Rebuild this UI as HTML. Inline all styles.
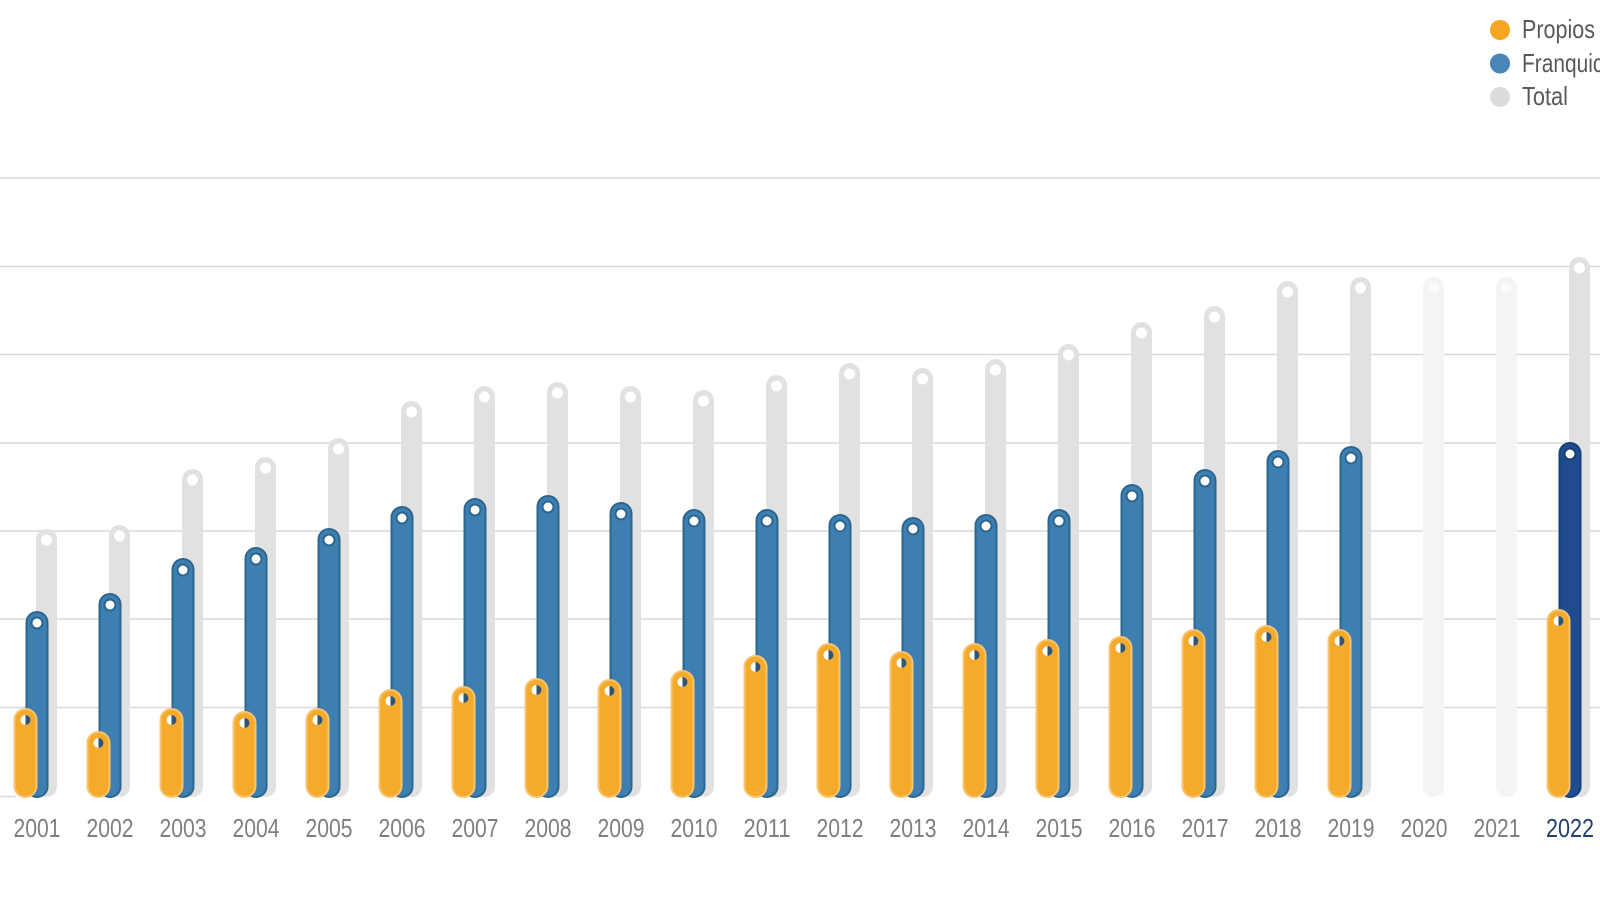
<!DOCTYPE html>
<html>
<head>
<meta charset="utf-8">
<style>
  html,body{margin:0;padding:0;background:#fff;}
  svg{display:block;}
  .gl{stroke:#D9D9D9;stroke-width:1.5;}
  .g{fill:#E1E1E1;}
  .f{fill:#F4F4F4;}
  .b{fill:#3D7FB1;stroke:#2C6690;stroke-width:2;}
  .n{fill:#1F4C8F;stroke:#173E78;stroke-width:2;}
  .o{fill:#F5AA2C;stroke:#F8C46E;stroke-width:2;}
  .w{fill:#fff;}
  .wf{fill:#FBFBFB;}
  .bm{fill:#fff;stroke:#2C6690;stroke-width:2;r:5.5px;}
  .nm{fill:#fff;stroke:#173E78;stroke-width:2;r:5.5px;}
  .dh{fill:#32546E;}
  .yl{font-family:"Liberation Sans Narrow","Liberation Sans",sans-serif;font-size:26px;fill:#7F7F7F;}
  .yl2{font-family:"Liberation Sans Narrow","Liberation Sans",sans-serif;font-size:26px;fill:#223F70;}
  .lg{font-family:"Liberation Sans Narrow","Liberation Sans",sans-serif;font-size:26px;fill:#595959;}
</style>
</head>
<body>
<svg width="1600" height="900" viewBox="0 0 1600 900" xmlns="http://www.w3.org/2000/svg">
  <!-- gridlines -->
  <line class="gl" x1="0" y1="178" x2="1600" y2="178"/>
  <line class="gl" x1="0" y1="266.5" x2="1600" y2="266.5"/>
  <line class="gl" x1="0" y1="354.5" x2="1600" y2="354.5"/>
  <line class="gl" x1="0" y1="443" x2="1600" y2="443"/>
  <line class="gl" x1="0" y1="531" x2="1600" y2="531"/>
  <line class="gl" x1="0" y1="619" x2="1600" y2="619"/>
  <line class="gl" x1="0" y1="707.5" x2="1600" y2="707.5"/>
  <line class="gl" x1="0" y1="796.5" x2="16" y2="796.5"/>

  <!-- 2001 -->
  <g transform="translate(37,0)">
    <rect class="g" x="-1" y="529" width="21" height="268" rx="10.5"/>
    <circle class="w" cx="9.5" cy="540" r="5.5"/>
    <rect class="b" x="-10.5" y="612" width="21" height="185" rx="10.5"/>
    <circle class="bm" cx="0" cy="623" r="5.5"/>
    <rect class="o" x="-22.5" y="709" width="22" height="88" rx="11"/>
    <circle class="w" cx="-11.5" cy="720" r="5"/>
    <path class="dh" d="M-11.5,715 A5,5 0 0 1 -11.5,725 Z"/>
  </g>
  <!-- 2002 -->
  <g transform="translate(110,0)">
    <rect class="g" x="-1" y="525" width="21" height="272" rx="10.5"/>
    <circle class="w" cx="9.5" cy="536" r="5.5"/>
    <rect class="b" x="-10.5" y="594" width="21" height="203" rx="10.5"/>
    <circle class="bm" cx="0" cy="605" r="5.5"/>
    <rect class="o" x="-22.5" y="732" width="22" height="65" rx="11"/>
    <circle class="w" cx="-11.5" cy="743" r="5"/>
    <path class="dh" d="M-11.5,738 A5,5 0 0 1 -11.5,748 Z"/>
  </g>
  <!-- 2003 -->
  <g transform="translate(183,0)">
    <rect class="g" x="-1" y="469" width="21" height="328" rx="10.5"/>
    <circle class="w" cx="9.5" cy="480" r="5.5"/>
    <rect class="b" x="-10.5" y="559" width="21" height="238" rx="10.5"/>
    <circle class="bm" cx="0" cy="570" r="5.5"/>
    <rect class="o" x="-22.5" y="709" width="22" height="88" rx="11"/>
    <circle class="w" cx="-11.5" cy="720" r="5"/>
    <path class="dh" d="M-11.5,715 A5,5 0 0 1 -11.5,725 Z"/>
  </g>
  <!-- 2004 -->
  <g transform="translate(256,0)">
    <rect class="g" x="-1" y="457" width="21" height="340" rx="10.5"/>
    <circle class="w" cx="9.5" cy="468" r="5.5"/>
    <rect class="b" x="-10.5" y="548" width="21" height="249" rx="10.5"/>
    <circle class="bm" cx="0" cy="559" r="5.5"/>
    <rect class="o" x="-22.5" y="712" width="22" height="85" rx="11"/>
    <circle class="w" cx="-11.5" cy="723" r="5"/>
    <path class="dh" d="M-11.5,718 A5,5 0 0 1 -11.5,728 Z"/>
  </g>
  <!-- 2005 -->
  <g transform="translate(329,0)">
    <rect class="g" x="-1" y="438" width="21" height="359" rx="10.5"/>
    <circle class="w" cx="9.5" cy="449" r="5.5"/>
    <rect class="b" x="-10.5" y="529" width="21" height="268" rx="10.5"/>
    <circle class="bm" cx="0" cy="540" r="5.5"/>
    <rect class="o" x="-22.5" y="709" width="22" height="88" rx="11"/>
    <circle class="w" cx="-11.5" cy="720" r="5"/>
    <path class="dh" d="M-11.5,715 A5,5 0 0 1 -11.5,725 Z"/>
  </g>
  <!-- 2006 -->
  <g transform="translate(402,0)">
    <rect class="g" x="-1" y="401" width="21" height="396" rx="10.5"/>
    <circle class="w" cx="9.5" cy="412" r="5.5"/>
    <rect class="b" x="-10.5" y="507" width="21" height="290" rx="10.5"/>
    <circle class="bm" cx="0" cy="518" r="5.5"/>
    <rect class="o" x="-22.5" y="690" width="22" height="107" rx="11"/>
    <circle class="w" cx="-11.5" cy="701" r="5"/>
    <path class="dh" d="M-11.5,696 A5,5 0 0 1 -11.5,706 Z"/>
  </g>
  <!-- 2007 -->
  <g transform="translate(475,0)">
    <rect class="g" x="-1" y="386" width="21" height="411" rx="10.5"/>
    <circle class="w" cx="9.5" cy="397" r="5.5"/>
    <rect class="b" x="-10.5" y="499" width="21" height="298" rx="10.5"/>
    <circle class="bm" cx="0" cy="510" r="5.5"/>
    <rect class="o" x="-22.5" y="687" width="22" height="110" rx="11"/>
    <circle class="w" cx="-11.5" cy="698" r="5"/>
    <path class="dh" d="M-11.5,693 A5,5 0 0 1 -11.5,703 Z"/>
  </g>
  <!-- 2008 -->
  <g transform="translate(548,0)">
    <rect class="g" x="-1" y="382" width="21" height="415" rx="10.5"/>
    <circle class="w" cx="9.5" cy="393" r="5.5"/>
    <rect class="b" x="-10.5" y="496" width="21" height="301" rx="10.5"/>
    <circle class="bm" cx="0" cy="507" r="5.5"/>
    <rect class="o" x="-22.5" y="679" width="22" height="118" rx="11"/>
    <circle class="w" cx="-11.5" cy="690" r="5"/>
    <path class="dh" d="M-11.5,685 A5,5 0 0 1 -11.5,695 Z"/>
  </g>
  <!-- 2009 -->
  <g transform="translate(621,0)">
    <rect class="g" x="-1" y="386" width="21" height="411" rx="10.5"/>
    <circle class="w" cx="9.5" cy="397" r="5.5"/>
    <rect class="b" x="-10.5" y="503" width="21" height="294" rx="10.5"/>
    <circle class="bm" cx="0" cy="514" r="5.5"/>
    <rect class="o" x="-22.5" y="680" width="22" height="117" rx="11"/>
    <circle class="w" cx="-11.5" cy="691" r="5"/>
    <path class="dh" d="M-11.5,686 A5,5 0 0 1 -11.5,696 Z"/>
  </g>
  <!-- 2010 -->
  <g transform="translate(694,0)">
    <rect class="g" x="-1" y="390" width="21" height="407" rx="10.5"/>
    <circle class="w" cx="9.5" cy="401" r="5.5"/>
    <rect class="b" x="-10.5" y="510" width="21" height="287" rx="10.5"/>
    <circle class="bm" cx="0" cy="521" r="5.5"/>
    <rect class="o" x="-22.5" y="671" width="22" height="126" rx="11"/>
    <circle class="w" cx="-11.5" cy="682" r="5"/>
    <path class="dh" d="M-11.5,677 A5,5 0 0 1 -11.5,687 Z"/>
  </g>
  <!-- 2011 -->
  <g transform="translate(767,0)">
    <rect class="g" x="-1" y="375" width="21" height="422" rx="10.5"/>
    <circle class="w" cx="9.5" cy="386" r="5.5"/>
    <rect class="b" x="-10.5" y="510" width="21" height="287" rx="10.5"/>
    <circle class="bm" cx="0" cy="521" r="5.5"/>
    <rect class="o" x="-22.5" y="656" width="22" height="141" rx="11"/>
    <circle class="w" cx="-11.5" cy="667" r="5"/>
    <path class="dh" d="M-11.5,662 A5,5 0 0 1 -11.5,672 Z"/>
  </g>
  <!-- 2012 -->
  <g transform="translate(840,0)">
    <rect class="g" x="-1" y="363" width="21" height="434" rx="10.5"/>
    <circle class="w" cx="9.5" cy="374" r="5.5"/>
    <rect class="b" x="-10.5" y="515" width="21" height="282" rx="10.5"/>
    <circle class="bm" cx="0" cy="526" r="5.5"/>
    <rect class="o" x="-22.5" y="644" width="22" height="153" rx="11"/>
    <circle class="w" cx="-11.5" cy="655" r="5"/>
    <path class="dh" d="M-11.5,650 A5,5 0 0 1 -11.5,660 Z"/>
  </g>
  <!-- 2013 -->
  <g transform="translate(913,0)">
    <rect class="g" x="-1" y="368" width="21" height="429" rx="10.5"/>
    <circle class="w" cx="9.5" cy="379" r="5.5"/>
    <rect class="b" x="-10.5" y="518" width="21" height="279" rx="10.5"/>
    <circle class="bm" cx="0" cy="529" r="5.5"/>
    <rect class="o" x="-22.5" y="652" width="22" height="145" rx="11"/>
    <circle class="w" cx="-11.5" cy="663" r="5"/>
    <path class="dh" d="M-11.5,658 A5,5 0 0 1 -11.5,668 Z"/>
  </g>
  <!-- 2014 -->
  <g transform="translate(986,0)">
    <rect class="g" x="-1" y="359" width="21" height="438" rx="10.5"/>
    <circle class="w" cx="9.5" cy="370" r="5.5"/>
    <rect class="b" x="-10.5" y="515" width="21" height="282" rx="10.5"/>
    <circle class="bm" cx="0" cy="526" r="5.5"/>
    <rect class="o" x="-22.5" y="644" width="22" height="153" rx="11"/>
    <circle class="w" cx="-11.5" cy="655" r="5"/>
    <path class="dh" d="M-11.5,650 A5,5 0 0 1 -11.5,660 Z"/>
  </g>
  <!-- 2015 -->
  <g transform="translate(1059,0)">
    <rect class="g" x="-1" y="344" width="21" height="453" rx="10.5"/>
    <circle class="w" cx="9.5" cy="355" r="5.5"/>
    <rect class="b" x="-10.5" y="510" width="21" height="287" rx="10.5"/>
    <circle class="bm" cx="0" cy="521" r="5.5"/>
    <rect class="o" x="-22.5" y="640" width="22" height="157" rx="11"/>
    <circle class="w" cx="-11.5" cy="651" r="5"/>
    <path class="dh" d="M-11.5,646 A5,5 0 0 1 -11.5,656 Z"/>
  </g>
  <!-- 2016 -->
  <g transform="translate(1132,0)">
    <rect class="g" x="-1" y="322" width="21" height="475" rx="10.5"/>
    <circle class="w" cx="9.5" cy="333" r="5.5"/>
    <rect class="b" x="-10.5" y="485" width="21" height="312" rx="10.5"/>
    <circle class="bm" cx="0" cy="496" r="5.5"/>
    <rect class="o" x="-22.5" y="637" width="22" height="160" rx="11"/>
    <circle class="w" cx="-11.5" cy="648" r="5"/>
    <path class="dh" d="M-11.5,643 A5,5 0 0 1 -11.5,653 Z"/>
  </g>
  <!-- 2017 -->
  <g transform="translate(1205,0)">
    <rect class="g" x="-1" y="306" width="21" height="491" rx="10.5"/>
    <circle class="w" cx="9.5" cy="317" r="5.5"/>
    <rect class="b" x="-10.5" y="470" width="21" height="327" rx="10.5"/>
    <circle class="bm" cx="0" cy="481" r="5.5"/>
    <rect class="o" x="-22.5" y="630" width="22" height="167" rx="11"/>
    <circle class="w" cx="-11.5" cy="641" r="5"/>
    <path class="dh" d="M-11.5,636 A5,5 0 0 1 -11.5,646 Z"/>
  </g>
  <!-- 2018 -->
  <g transform="translate(1278,0)">
    <rect class="g" x="-1" y="281" width="21" height="516" rx="10.5"/>
    <circle class="w" cx="9.5" cy="292" r="5.5"/>
    <rect class="b" x="-10.5" y="451" width="21" height="346" rx="10.5"/>
    <circle class="bm" cx="0" cy="462" r="5.5"/>
    <rect class="o" x="-22.5" y="626" width="22" height="171" rx="11"/>
    <circle class="w" cx="-11.5" cy="637" r="5"/>
    <path class="dh" d="M-11.5,632 A5,5 0 0 1 -11.5,642 Z"/>
  </g>
  <!-- 2019 -->
  <g transform="translate(1351,0)">
    <rect class="g" x="-1" y="277" width="21" height="520" rx="10.5"/>
    <circle class="w" cx="9.5" cy="288" r="5.5"/>
    <rect class="b" x="-10.5" y="447" width="21" height="350" rx="10.5"/>
    <circle class="bm" cx="0" cy="458" r="5.5"/>
    <rect class="o" x="-22.5" y="630" width="22" height="167" rx="11"/>
    <circle class="w" cx="-11.5" cy="641" r="5"/>
    <path class="dh" d="M-11.5,636 A5,5 0 0 1 -11.5,646 Z"/>
  </g>
  <!-- 2020 -->
  <g transform="translate(1424,0)">
    <rect class="f" x="-1" y="277" width="21" height="520" rx="10.5"/>
    <circle class="wf" cx="9.5" cy="288" r="5.5"/>
  </g>
  <!-- 2021 -->
  <g transform="translate(1497,0)">
    <rect class="f" x="-1" y="277" width="21" height="520" rx="10.5"/>
    <circle class="wf" cx="9.5" cy="288" r="5.5"/>
  </g>
  <!-- 2022 -->
  <g transform="translate(1570,0)">
    <rect class="g" x="-1" y="257" width="21" height="540" rx="10.5"/>
    <circle class="w" cx="9.5" cy="268" r="5.5"/>
    <rect class="n" x="-10.5" y="443" width="21" height="354" rx="10.5"/>
    <circle class="nm" cx="0" cy="454" r="5.5"/>
    <rect class="o" x="-22.5" y="610" width="22" height="187" rx="11"/>
    <circle class="w" cx="-11.5" cy="621" r="5"/>
    <path class="dh" d="M-11.5,616 A5,5 0 0 1 -11.5,626 Z"/>
  </g>

  <!-- year labels -->
  <text class="yl" x="37" y="837" text-anchor="middle" textLength="47" lengthAdjust="spacingAndGlyphs">2001</text>
  <text class="yl" x="110" y="837" text-anchor="middle" textLength="47" lengthAdjust="spacingAndGlyphs">2002</text>
  <text class="yl" x="183" y="837" text-anchor="middle" textLength="47" lengthAdjust="spacingAndGlyphs">2003</text>
  <text class="yl" x="256" y="837" text-anchor="middle" textLength="47" lengthAdjust="spacingAndGlyphs">2004</text>
  <text class="yl" x="329" y="837" text-anchor="middle" textLength="47" lengthAdjust="spacingAndGlyphs">2005</text>
  <text class="yl" x="402" y="837" text-anchor="middle" textLength="47" lengthAdjust="spacingAndGlyphs">2006</text>
  <text class="yl" x="475" y="837" text-anchor="middle" textLength="47" lengthAdjust="spacingAndGlyphs">2007</text>
  <text class="yl" x="548" y="837" text-anchor="middle" textLength="47" lengthAdjust="spacingAndGlyphs">2008</text>
  <text class="yl" x="621" y="837" text-anchor="middle" textLength="47" lengthAdjust="spacingAndGlyphs">2009</text>
  <text class="yl" x="694" y="837" text-anchor="middle" textLength="47" lengthAdjust="spacingAndGlyphs">2010</text>
  <text class="yl" x="767" y="837" text-anchor="middle" textLength="47" lengthAdjust="spacingAndGlyphs">2011</text>
  <text class="yl" x="840" y="837" text-anchor="middle" textLength="47" lengthAdjust="spacingAndGlyphs">2012</text>
  <text class="yl" x="913" y="837" text-anchor="middle" textLength="47" lengthAdjust="spacingAndGlyphs">2013</text>
  <text class="yl" x="986" y="837" text-anchor="middle" textLength="47" lengthAdjust="spacingAndGlyphs">2014</text>
  <text class="yl" x="1059" y="837" text-anchor="middle" textLength="47" lengthAdjust="spacingAndGlyphs">2015</text>
  <text class="yl" x="1132" y="837" text-anchor="middle" textLength="47" lengthAdjust="spacingAndGlyphs">2016</text>
  <text class="yl" x="1205" y="837" text-anchor="middle" textLength="47" lengthAdjust="spacingAndGlyphs">2017</text>
  <text class="yl" x="1278" y="837" text-anchor="middle" textLength="47" lengthAdjust="spacingAndGlyphs">2018</text>
  <text class="yl" x="1351" y="837" text-anchor="middle" textLength="47" lengthAdjust="spacingAndGlyphs">2019</text>
  <text class="yl" x="1424" y="837" text-anchor="middle" textLength="47" lengthAdjust="spacingAndGlyphs">2020</text>
  <text class="yl" x="1497" y="837" text-anchor="middle" textLength="47" lengthAdjust="spacingAndGlyphs">2021</text>
  <text class="yl2" x="1570" y="837" text-anchor="middle" textLength="48" lengthAdjust="spacingAndGlyphs">2022</text>

  <!-- legend -->
  <circle cx="1500" cy="30" r="10" fill="#F5A623"/>
  <circle cx="1500" cy="63.5" r="10" fill="#4A86B8"/>
  <circle cx="1500" cy="97" r="10" fill="#DCDCDC"/>
  <text class="lg" x="1522" y="38" textLength="73" lengthAdjust="spacingAndGlyphs">Propios</text>
  <text class="lg" x="1522" y="72" textLength="108" lengthAdjust="spacingAndGlyphs">Franquicias</text>
  <text class="lg" x="1522" y="105" textLength="46" lengthAdjust="spacingAndGlyphs">Total</text>
</svg>
</body>
</html>
